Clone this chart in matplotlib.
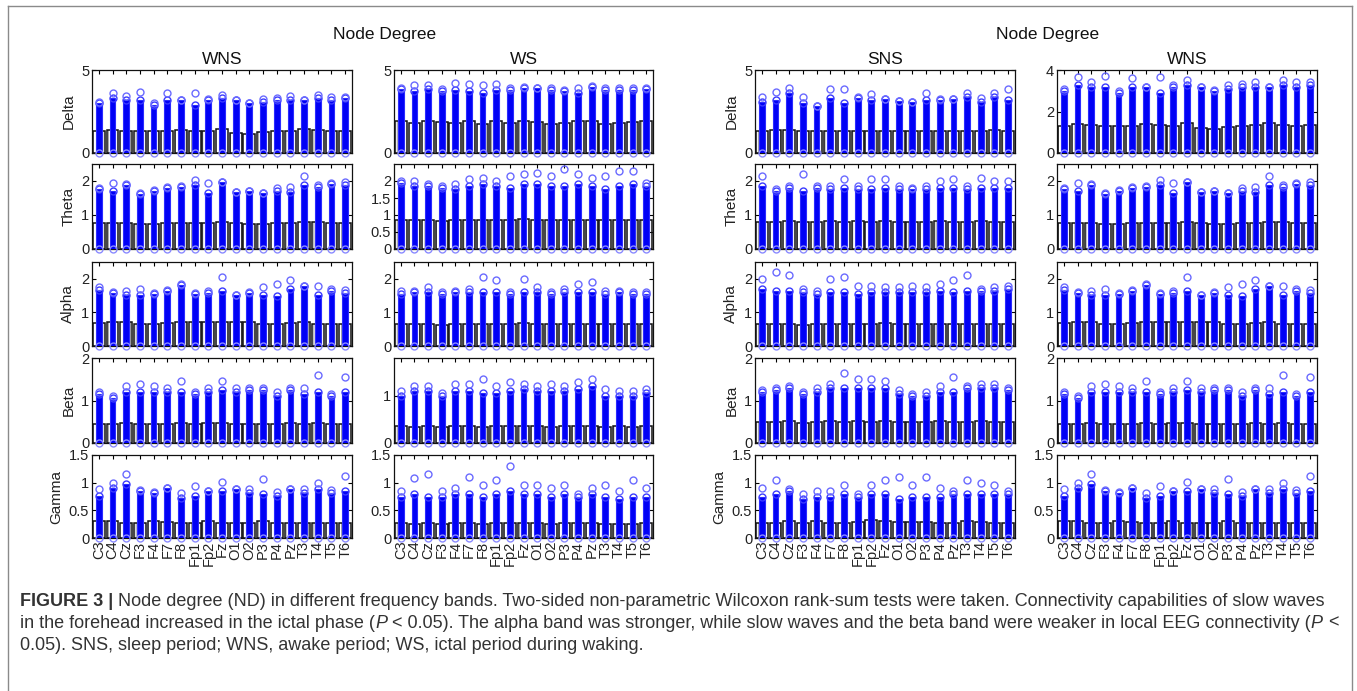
import numpy as np
import matplotlib
matplotlib.use("Agg")
import matplotlib.pyplot as plt
from matplotlib.lines import Line2D

# ---------------- data ----------------
channels = ["C3", "C4", "Cz", "F3", "F4", "F7", "F8", "Fp1", "Fp2", "Fz",
            "O1", "O2", "P3", "P4", "Pz", "T3", "T4", "T5", "T6"]
bands = ["Delta", "Theta", "Alpha", "Beta", "Gamma"]
panel_titles = ["WNS", "WS", "SNS", "WNS"]
group_title = "Node Degree"

# WNS (awake period)
WNS_DELTA_Q3 = [1.30, 1.40, 1.34, 1.30, 1.30, 1.30, 1.40, 1.34, 1.30, 1.46, 1.20, 1.16, 1.26, 1.30, 1.34, 1.44, 1.36, 1.30, 1.34]
WNS_DELTA_TOP = [3.0, 3.3, 3.2, 3.2, 2.9, 3.2, 3.2, 2.9, 3.2, 3.3, 3.2, 3.0, 3.1, 3.2, 3.2, 3.2, 3.3, 3.2, 3.3]
WNS_DELTA_OUT = [3.1, 3.64, 3.44, 3.7, 3.0, 3.6, 3.2, 3.64, 3.26, 3.5, 3.2, 3.04, 3.26, 3.34, 3.44, 3.2, 3.5, 3.4, 3.4]
WNS_THETA_Q3 = [0.75, 0.76, 0.76, 0.73, 0.74, 0.75, 0.77, 0.76, 0.75, 0.79, 0.75, 0.74, 0.73, 0.77, 0.75, 0.79, 0.79, 0.76, 0.75]
WNS_THETA_TOP = [1.77, 1.72, 1.87, 1.62, 1.72, 1.79, 1.82, 1.87, 1.64, 1.97, 1.67, 1.70, 1.64, 1.72, 1.67, 1.87, 1.82, 1.92, 1.87]
WNS_THETA_OUT = [1.80, 1.94, 1.92, 1.65, 1.74, 1.82, 1.85, 2.02, 1.94, 1.97, 1.67, 1.72, 1.64, 1.79, 1.82, 2.15, 1.87, 1.95, 1.97]
WNS_ALPHA_Q3 = [0.68, 0.70, 0.70, 0.65, 0.66, 0.68, 0.72, 0.70, 0.72, 0.70, 0.70, 0.70, 0.66, 0.65, 0.68, 0.70, 0.65, 0.65, 0.64]
WNS_ALPHA_TOP = [1.68, 1.58, 1.53, 1.53, 1.55, 1.63, 1.83, 1.55, 1.58, 1.63, 1.51, 1.58, 1.53, 1.48, 1.70, 1.78, 1.53, 1.63, 1.58]
WNS_ALPHA_OUT = [1.76, 1.60, 1.65, 1.70, 1.58, 1.66, 1.86, 1.58, 1.65, 2.05, 1.51, 1.60, 1.76, 1.86, 1.96, 1.78, 1.78, 1.70, 1.68]
WNS_BETA_Q3 = [0.45, 0.44, 0.46, 0.44, 0.45, 0.45, 0.46, 0.44, 0.46, 0.47, 0.45, 0.44, 0.45, 0.44, 0.46, 0.45, 0.46, 0.44, 0.45]
WNS_BETA_TOP = [1.15, 1.05, 1.2, 1.2, 1.2, 1.2, 1.2, 1.15, 1.2, 1.25, 1.2, 1.25, 1.25, 1.1, 1.25, 1.15, 1.2, 1.1, 1.2]
WNS_BETA_OUT = [1.2, 1.1, 1.35, 1.4, 1.35, 1.3, 1.45, 1.2, 1.3, 1.45, 1.3, 1.3, 1.3, 1.2, 1.3, 1.3, 1.6, 1.15, 1.55]
WNS_GAMMA_Q3 = [0.30, 0.30, 0.28, 0.27, 0.30, 0.29, 0.28, 0.28, 0.31, 0.28, 0.28, 0.28, 0.30, 0.28, 0.28, 0.28, 0.28, 0.28, 0.28]
WNS_GAMMA_TOP = [0.76, 0.91, 0.97, 0.85, 0.82, 0.91, 0.73, 0.76, 0.85, 0.85, 0.88, 0.82, 0.79, 0.76, 0.88, 0.82, 0.88, 0.82, 0.85]
WNS_GAMMA_OUT = [0.89, 0.99, 1.15, 0.87, 0.84, 0.91, 0.82, 0.94, 0.85, 1.01, 0.89, 0.88, 1.06, 0.83, 0.89, 0.88, 1.00, 0.87, 1.12]

# WS (ictal period during waking)
WS_DELTA_Q3 = [1.9, 1.8, 1.9, 1.85, 1.8, 1.9, 1.75, 1.95, 1.8, 1.95, 1.85, 1.75, 1.8, 1.9, 1.9, 1.75, 1.8, 1.85, 1.9]
WS_DELTA_TOP = [3.85, 3.75, 3.85, 3.75, 3.8, 3.75, 3.6, 3.8, 3.8, 3.9, 3.9, 3.8, 3.75, 3.6, 3.95, 3.8, 3.8, 3.8, 3.85]
WS_DELTA_OUT = [3.9, 4.1, 4.1, 3.86, 4.24, 4.14, 4.1, 4.14, 3.9, 4.0, 3.94, 3.9, 3.8, 3.9, 4.06, 3.9, 3.9, 3.9, 3.9]
WS_THETA_Q3 = [0.85, 0.84, 0.86, 0.83, 0.85, 0.86, 0.84, 0.86, 0.85, 0.87, 0.85, 0.84, 0.85, 0.86, 0.85, 0.84, 0.86, 0.85, 0.85]
WS_THETA_TOP = [1.95, 1.85, 1.85, 1.8, 1.75, 1.85, 1.9, 1.85, 1.8, 1.9, 1.9, 1.85, 1.85, 1.9, 1.85, 1.75, 1.85, 1.9, 1.85]
WS_THETA_OUT = [2.0, 2.0, 1.9, 1.85, 1.9, 2.05, 2.1, 2.0, 2.15, 2.2, 2.25, 2.15, 2.35, 2.2, 2.1, 2.15, 2.3, 2.3, 1.95]
WS_ALPHA_Q3 = [0.65, 0.64, 0.66, 0.63, 0.65, 0.66, 0.64, 0.66, 0.65, 0.67, 0.65, 0.64, 0.65, 0.66, 0.65, 0.64, 0.66, 0.65, 0.65]
WS_ALPHA_TOP = [1.55, 1.6, 1.6, 1.55, 1.6, 1.6, 1.6, 1.6, 1.55, 1.6, 1.6, 1.55, 1.6, 1.6, 1.6, 1.55, 1.6, 1.55, 1.55]
WS_ALPHA_OUT = [1.65, 1.65, 1.75, 1.6, 1.65, 1.7, 2.05, 1.95, 1.6, 2.0, 1.75, 1.6, 1.7, 1.85, 1.9, 1.65, 1.65, 1.6, 1.6]
WS_BETA_Q3 = [0.35, 0.34, 0.36, 0.33, 0.35, 0.36, 0.34, 0.36, 0.35, 0.36, 0.35, 0.34, 0.35, 0.36, 0.35, 0.34, 0.35, 0.34, 0.35]
WS_BETA_TOP = [1.0, 1.1, 1.1, 1.0, 1.1, 1.1, 1.05, 1.05, 1.1, 1.15, 1.1, 1.1, 1.1, 1.15, 1.2, 1.0, 1.0, 1.0, 1.05]
WS_BETA_OUT = [1.1, 1.2, 1.2, 1.05, 1.25, 1.25, 1.35, 1.2, 1.3, 1.25, 1.2, 1.25, 1.2, 1.3, 1.35, 1.15, 1.1, 1.1, 1.15]
WS_GAMMA_Q3 = [0.27, 0.26, 0.28, 0.26, 0.27, 0.27, 0.26, 0.27, 0.27, 0.28, 0.27, 0.26, 0.27, 0.27, 0.27, 0.26, 0.26, 0.26, 0.27]
WS_GAMMA_TOP = [0.75, 0.8, 0.75, 0.75, 0.8, 0.8, 0.75, 0.8, 0.85, 0.8, 0.8, 0.75, 0.8, 0.75, 0.8, 0.75, 0.7, 0.75, 0.75]
WS_GAMMA_OUT = [0.85, 1.08, 1.15, 0.85, 0.9, 1.1, 0.95, 1.05, 1.3, 0.95, 0.95, 0.9, 0.95, 0.8, 0.9, 0.95, 0.85, 1.05, 0.9]

# SNS (sleep period)
SNS_DELTA_Q3 = [1.35, 1.4, 1.4, 1.3, 1.3, 1.3, 1.35, 1.35, 1.35, 1.35, 1.35, 1.3, 1.35, 1.3, 1.3, 1.3, 1.3, 1.4, 1.35]
SNS_DELTA_TOP = [3.1, 3.2, 3.6, 3.0, 2.84, 3.3, 3.0, 3.3, 3.2, 3.26, 3.16, 3.1, 3.2, 3.2, 3.26, 3.36, 3.1, 3.4, 3.2]
SNS_DELTA_OUT = [3.36, 3.7, 3.9, 3.4, 2.84, 3.84, 3.86, 3.36, 3.56, 3.26, 3.16, 3.1, 3.6, 3.26, 3.26, 3.6, 3.34, 3.64, 3.86]
SNS_THETA_Q3 = [0.80, 0.79, 0.81, 0.78, 0.80, 0.81, 0.79, 0.81, 0.80, 0.82, 0.80, 0.79, 0.80, 0.81, 0.80, 0.79, 0.81, 0.80, 0.80]
SNS_THETA_TOP = [1.85, 1.7, 1.8, 1.7, 1.8, 1.75, 1.8, 1.75, 1.75, 1.8, 1.75, 1.75, 1.75, 1.8, 1.8, 1.75, 1.8, 1.8, 1.8]
SNS_THETA_OUT = [2.15, 1.75, 1.85, 2.2, 1.85, 1.85, 2.05, 1.85, 2.05, 2.05, 1.85, 1.8, 1.85, 2.0, 2.05, 1.85, 2.1, 2.0, 2.0]
SNS_ALPHA_Q3 = [0.65, 0.64, 0.66, 0.63, 0.65, 0.66, 0.64, 0.66, 0.65, 0.67, 0.65, 0.64, 0.65, 0.66, 0.65, 0.64, 0.66, 0.65, 0.65]
SNS_ALPHA_TOP = [1.7, 1.65, 1.65, 1.6, 1.55, 1.6, 1.6, 1.55, 1.6, 1.6, 1.6, 1.6, 1.6, 1.65, 1.6, 1.65, 1.65, 1.65, 1.7]
SNS_ALPHA_OUT = [2.0, 2.2, 2.1, 1.7, 1.65, 2.0, 2.05, 1.8, 1.8, 1.75, 1.75, 1.8, 1.75, 1.85, 1.95, 2.1, 1.7, 1.75, 1.8]
SNS_BETA_Q3 = [0.50, 0.49, 0.51, 0.48, 0.50, 0.51, 0.49, 0.51, 0.50, 0.52, 0.50, 0.49, 0.50, 0.51, 0.50, 0.49, 0.51, 0.50, 0.50]
SNS_BETA_TOP = [1.2, 1.25, 1.3, 1.15, 1.2, 1.3, 1.3, 1.3, 1.3, 1.3, 1.15, 1.1, 1.1, 1.2, 1.2, 1.3, 1.3, 1.3, 1.25]
SNS_BETA_OUT = [1.25, 1.3, 1.35, 1.2, 1.3, 1.4, 1.65, 1.5, 1.5, 1.45, 1.25, 1.15, 1.2, 1.35, 1.55, 1.35, 1.4, 1.4, 1.3]
SNS_GAMMA_Q3 = [0.28, 0.27, 0.30, 0.27, 0.30, 0.27, 0.28, 0.29, 0.32, 0.30, 0.29, 0.29, 0.29, 0.28, 0.28, 0.30, 0.29, 0.28, 0.28]
SNS_GAMMA_TOP = [0.75, 0.8, 0.85, 0.7, 0.75, 0.75, 0.8, 0.75, 0.8, 0.8, 0.7, 0.75, 0.75, 0.75, 0.8, 0.8, 0.8, 0.8, 0.8]
SNS_GAMMA_OUT = [0.9, 1.05, 0.88, 0.8, 0.85, 0.85, 0.95, 0.8, 0.95, 1.05, 1.1, 0.95, 1.1, 0.9, 0.85, 1.05, 1.0, 0.95, 0.85]

# axis limits / ticks per column and band
YLIMS = [[5, 2.5, 2.5, 2.0, 1.5],
         [5, 2.5, 2.5, 1.8, 1.5],
         [5, 2.5, 2.5, 2.0, 1.5],
         [4, 2.5, 2.5, 2.0, 1.5]]
YTICKS = [[[0, 5], [0, 1, 2], [0, 1, 2], [0, 1, 2], [0, 0.5, 1, 1.5]],
          [[0, 5], [0, 0.5, 1, 1.5, 2], [0, 1, 2], [0, 1], [0, 0.5, 1, 1.5]],
          [[0, 5], [0, 1, 2], [0, 1, 2], [0, 1, 2], [0, 0.5, 1, 1.5]],
          [[0, 2, 4], [0, 1, 2], [0, 1, 2], [0, 1, 2], [0, 0.5, 1, 1.5]]]

WNS_SET = [(WNS_DELTA_Q3, WNS_DELTA_TOP, WNS_DELTA_OUT), (WNS_THETA_Q3, WNS_THETA_TOP, WNS_THETA_OUT),
           (WNS_ALPHA_Q3, WNS_ALPHA_TOP, WNS_ALPHA_OUT), (WNS_BETA_Q3, WNS_BETA_TOP, WNS_BETA_OUT),
           (WNS_GAMMA_Q3, WNS_GAMMA_TOP, WNS_GAMMA_OUT)]
WS_SET = [(WS_DELTA_Q3, WS_DELTA_TOP, WS_DELTA_OUT), (WS_THETA_Q3, WS_THETA_TOP, WS_THETA_OUT),
          (WS_ALPHA_Q3, WS_ALPHA_TOP, WS_ALPHA_OUT), (WS_BETA_Q3, WS_BETA_TOP, WS_BETA_OUT),
          (WS_GAMMA_Q3, WS_GAMMA_TOP, WS_GAMMA_OUT)]
SNS_SET = [(SNS_DELTA_Q3, SNS_DELTA_TOP, SNS_DELTA_OUT), (SNS_THETA_Q3, SNS_THETA_TOP, SNS_THETA_OUT),
           (SNS_ALPHA_Q3, SNS_ALPHA_TOP, SNS_ALPHA_OUT), (SNS_BETA_Q3, SNS_BETA_TOP, SNS_BETA_OUT),
           (SNS_GAMMA_Q3, SNS_GAMMA_TOP, SNS_GAMMA_OUT)]
COLUMN_DATA = [WNS_SET, WS_SET, SNS_SET, WNS_SET]

caption_lines = [
    [("FIGURE 3 | ", "bold", "normal"),
     ("Node degree (ND) in different frequency bands. Two-sided non-parametric Wilcoxon rank-sum tests were taken. Connectivity capabilities of slow waves", "normal", "normal")],
    [("in the forehead increased in the ictal phase (", "normal", "normal"), ("P", "normal", "italic"),
     (" < 0.05). The alpha band was stronger, while slow waves and the beta band were weaker in local EEG connectivity (", "normal", "normal"),
     ("P", "normal", "italic"), (" <", "normal", "normal")],
    [("0.05). SNS, sleep period; WNS, awake period; WS, ictal period during waking.", "normal", "normal")],
]

# ---------------- layout ----------------
W, H = 1357, 691
plt.rcParams["font.family"] = ["Liberation Sans", "DejaVu Sans"]
plt.rcParams["hatch.linewidth"] = 0.6
fig = plt.figure(figsize=(W / 100, H / 100), dpi=100)
fig.patch.set_facecolor("white")

cols_x = [(92, 352), (394, 653), (755, 1015), (1057, 1317)]
rows_y = [(70, 153), (164, 249), (262, 346), (358, 443), (455, 538)]


def fmt(v):
    return ("%g" % v)


xpos = np.arange(1, len(channels) + 1)
for ci, (x0, x1) in enumerate(cols_x):
    for ri, (y0, y1) in enumerate(rows_y):
        ax = fig.add_axes([x0 / W, 1 - y1 / H, (x1 - x0) / W, (y1 - y0) / H])
        q3, top, out = COLUMN_DATA[ci][ri]
        ax.bar(xpos, q3, width=0.86, facecolor="white", edgecolor="#8a8a8a",
               hatch="|||", linewidth=0, zorder=1)
        ax.bar(xpos, q3, width=0.86, fill=False, edgecolor="#111111", linewidth=1.1, zorder=2)
        ax.bar(xpos, top, width=0.42, color="#0000f5", edgecolor="#2b2bff", linewidth=0.8, zorder=3)
        ax.plot(xpos, top, "o", mfc="none", mec="#3a3aff", ms=5, mew=1.0, zorder=4)
        ax.plot(xpos, out, "o", mfc="none", mec="#6a6aff", ms=5, mew=1.0, zorder=4)
        ax.plot(xpos, np.zeros(len(xpos)), "o", mfc="none", mec="#8a8aff", ms=5, mew=1.0,
                zorder=4, clip_on=False)
        ax.set_xlim(0.5, len(channels) + 0.5)
        ax.set_ylim(0, YLIMS[ci][ri])
        ax.set_yticks(YTICKS[ci][ri])
        ax.set_yticklabels([fmt(v) for v in YTICKS[ci][ri]], fontsize=10.5, color="#222222")
        ax.set_xticks(xpos)
        if ri == len(rows_y) - 1:
            ax.set_xticklabels(channels, rotation=90, fontsize=10.5, color="#222222")
        else:
            ax.set_xticklabels([])
        ax.tick_params(direction="in", top=True, right=True, length=3, width=0.8, pad=2)
        for s in ax.spines.values():
            s.set_linewidth(0.9)
            s.set_color("#111111")
        if ci in (0, 2):
            ax.set_ylabel(bands[ri], fontsize=11, color="#222222", labelpad=4)
        if ri == 0:
            ax.set_title(panel_titles[ci], fontsize=12.5, color="#111111", pad=4)

fig.text(385 / W, 1 - 35 / H, group_title, ha="center", va="center", fontsize=12.5, color="#111111")
fig.text(1048 / W, 1 - 35 / H, group_title, ha="center", va="center", fontsize=12.5, color="#111111")

# frame around the figure panel
frame_col = "#8a8a8a"
fig.add_artist(Line2D([8 / W, 8 / W], [0, 1 - 6 / H], color=frame_col, lw=1.0))
fig.add_artist(Line2D([8 / W, 1352 / W], [1 - 6 / H, 1 - 6 / H], color=frame_col, lw=1.0))
fig.add_artist(Line2D([1352 / W, 1352 / W], [0, 1 - 6 / H], color=frame_col, lw=1.0))

# ---------------- caption ----------------
renderer = fig.canvas.get_renderer()
cap_family = ["Liberation Sans", "DejaVu Sans"]
cap_color = "#333333"


def measure(txt, size, weight, style):
    t = fig.text(0, 0, txt, fontsize=size, fontweight=weight, fontstyle=style, family=cap_family)
    w = t.get_window_extent(renderer).width
    t.remove()
    return w


def space_w(size, weight, style):
    return measure("a a", size, weight, style) - measure("aa", size, weight, style)


def line_width(segs, size):
    tot = 0.0
    for txt, wt, st in segs:
        lead = len(txt) - len(txt.lstrip(" "))
        trail = len(txt) - len(txt.rstrip(" "))
        sw = space_w(size, wt, st)
        tot += (lead + trail) * sw + measure(txt.strip(" "), size, wt, st)
    return tot


base = 10.0
target = 1328 - 20
cap_size = base * target / line_width(caption_lines[0], base)

cap_y = [601, 623, 645]
for segs, yy in zip(caption_lines, cap_y):
    x = 20.0
    for txt, wt, st in segs:
        lead = len(txt) - len(txt.lstrip(" "))
        trail = len(txt) - len(txt.rstrip(" "))
        sw = space_w(cap_size, wt, st)
        x += lead * sw
        core = txt.strip(" ")
        t = fig.text(x / W, 1 - yy / H, core, fontsize=cap_size, fontweight=wt, fontstyle=st,
                     family=cap_family, color=cap_color, ha="left", va="center")
        x += t.get_window_extent(renderer).width + trail * sw

fig.savefig("out.png", dpi=100)
